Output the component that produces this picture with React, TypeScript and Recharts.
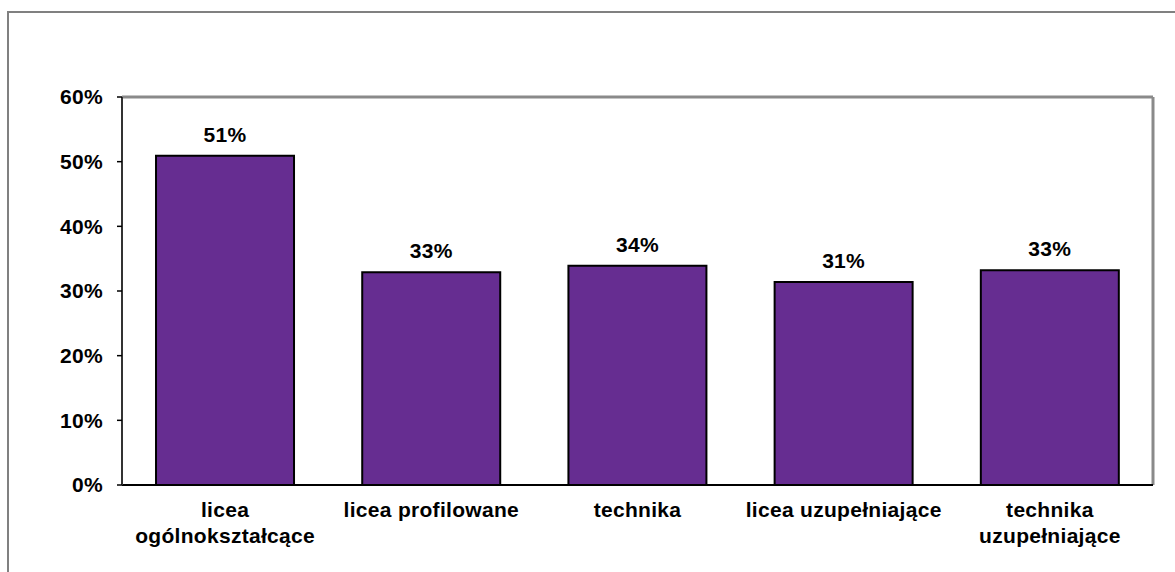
import React from "react";
import {
  BarChart,
  Bar,
  XAxis,
  YAxis,
  LabelList,
  ReferenceLine,
} from "recharts";

const categories = [
  "licea\nogólnokształcące",
  "licea profilowane",
  "technika",
  "licea uzupełniające",
  "technika\nuzupełniające",
];
const shares = [50.9, 32.9, 33.9, 31.4, 33.2];
const yTicks = [0, 10, 20, 30, 40, 50, 60];
const boundaryTicks = [0, 1, 2, 3, 4, 5];

const data = categories.map((name, i) => ({ name, value: shares[i], idx: i + 0.5 }));

const FONT = "'Liberation Sans', Arial, sans-serif";
const textStyle = { fontFamily: FONT, fontSize: 21, fontWeight: 700, letterSpacing: 0.3 };

const CategoryTick = (props: any) => {
  const { x, y, payload } = props;
  const lines = String(payload.value).split("\n");
  return (
    <text x={x} y={y} textAnchor="middle" fill="#000" style={textStyle}>
      {lines.map((l, i) => (
        <tspan key={i} x={x} y={y + 24 + i * 26}>
          {l}
        </tspan>
      ))}
    </text>
  );
};

export default function App() {
  return (
    <div style={{ position: "absolute", left: 0, top: 0, width: 1175, height: 572, background: "#fff", overflow: "hidden" }}>
      <div
        style={{
          position: "absolute",
          left: 7,
          top: 11,
          width: 1250,
          height: 700,
          border: "2px solid #808080",
        }}
      />
      <div style={{ position: "absolute", left: 0, top: 0 }}>
        <BarChart
          width={1175}
          height={572}
          data={data}
          margin={{ top: 97, right: 22, left: 42, bottom: 0 }}
          barCategoryGap="16.5%"
        >
          <XAxis
            xAxisId="grid"
            type="number"
            dataKey="idx"
            domain={[0, 5]}
            ticks={boundaryTicks}
            tickFormatter={() => ""}
            axisLine={false}
            tickLine={{ stroke: "#000", strokeWidth: 1.5 }}
            tickSize={6}
            height={0}
          />
          <XAxis
            dataKey="name"
            interval={0}
            height={87}
            axisLine={{ stroke: "#000", strokeWidth: 2 }}
            tickLine={false}
            tick={<CategoryTick />}
          />
          <YAxis
            domain={[0, 60]}
            ticks={yTicks}
            interval={0}
            width={80}
            tickFormatter={(v) => `${v}%`}
            axisLine={{ stroke: "#333", strokeWidth: 2 }}
            tickLine={{ stroke: "#000", strokeWidth: 1.5 }}
            tickSize={5}
            tickMargin={14}
            tick={{ fill: "#000", ...textStyle }}
          />
          <ReferenceLine y={60} stroke="#8a8a8a" strokeWidth={3} />
          <ReferenceLine
            x={categories[categories.length - 1]}
            position="end"
            stroke="#8a8a8a"
            strokeWidth={3}
          />
          <Bar
            dataKey="value"
            fill="#662D91"
            stroke="#000"
            strokeWidth={2}
            isAnimationActive={false}
          >
            <LabelList
              dataKey="value"
              position="top"
              offset={14}
              formatter={(v: any) => `${Math.round(Number(v))}%`}
              style={{ ...textStyle, fill: "#000" }}
            />
          </Bar>
        </BarChart>
      </div>
    </div>
  );
}
